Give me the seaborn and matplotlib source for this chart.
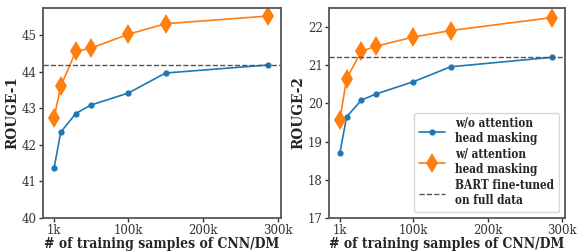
import matplotlib
matplotlib.use('Agg')
import seaborn as sns
from matplotlib import pyplot as plt
import numpy as np

samples = [1000, 10000, 30000, 50000, 100000, 150000, 287000]

r1_base = [41.36, 42.35, 42.86, 43.09, 43.42, 43.97, 44.19]
r1_mask = [42.73, 43.61, 44.56, 44.65, 45.03, 45.32, 45.53]
r1_full = 44.18

r2_base = [18.71, 19.65, 20.09, 20.25, 20.57, 20.96, 21.21]
r2_mask = [19.57, 20.65, 21.37, 21.50, 21.74, 21.91, 22.25]
r2_full = 21.21

xticks = [1000, 100000, 200000, 300000]
xticklabels = ['1k', '100k', '200k', '300k']

sns.set_style('white')
plt.rcParams['font.family'] = ['DejaVu Serif']

fig = plt.figure(figsize=(5.79, 2.52), dpi=100)
ax1 = fig.add_axes([43 / 579, 34 / 252, 238 / 579, 210 / 252])
ax2 = fig.add_axes([329 / 579, 34 / 252, 236 / 579, 210 / 252])

panels = [
    (ax1, r1_base, r1_mask, r1_full, 'ROUGE-1', (40, 45.75), [40, 41, 42, 43, 44, 45]),
    (ax2, r2_base, r2_mask, r2_full, 'ROUGE-2', (17, 22.5), [17, 18, 19, 20, 21, 22]),
]

for ax, base, mask, full, ylabel, ylim, yticks in panels:
    sns.lineplot(x=samples, y=base, ax=ax, color='#1f77b4', marker='o',
                 markersize=4.5, markeredgewidth=0, linewidth=1.2,
                 label='w/o attention\nhead masking')
    sns.lineplot(x=samples, y=mask, ax=ax, color='#ff7f0e', marker='d',
                 markersize=10, markeredgewidth=0, linewidth=1.2,
                 label='w/ attention\nhead masking')
    ax.axhline(full, color='#555555', linestyle='--', linewidth=1,
               label='BART fine-tuned\non full data')
    ax.set_xlim(-13700, 304000)
    ax.set_ylim(*ylim)
    ax.set_yticks(yticks)
    ax.set_xticks(xticks)
    ax.set_xticklabels(xticklabels)
    ax.tick_params(axis='both', labelsize=8.5, length=3, width=1,
                   colors='#333333', direction='out', left=True, bottom=True,
                   pad=1.5)
    ax.set_ylabel(ylabel, fontsize=11, fontweight='bold', labelpad=2,
                  fontstretch='condensed')
    ax.set_xlabel('# of training samples of CNN/DM', fontsize=10,
                  fontweight='bold', labelpad=-0.5, fontstretch='condensed')
    for s in ax.spines.values():
        s.set_color('#555555')
        s.set_linewidth(1.3)

ax1.get_legend().remove()
leg = ax2.legend(loc='lower right', handlelength=2.2,
                 borderpad=0.4, labelspacing=0.25, handletextpad=0.9,
                 prop={'weight': 'bold', 'size': 8.5, 'stretch': 'condensed'})

fig.savefig('out.png', dpi=100)
